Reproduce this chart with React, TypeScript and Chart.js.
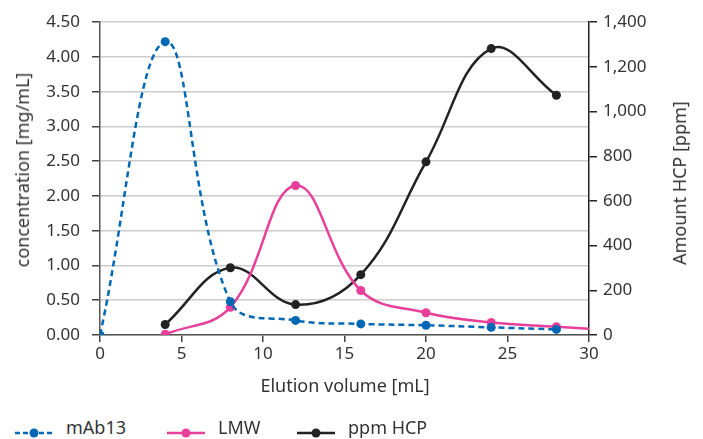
import React, { useEffect, useRef } from "react";
import { Chart, registerables } from "chart.js";

Chart.register(...registerables);

const FONT = "'Noto Sans', sans-serif";
const TEXT = "#333333";

const BLUE = "#0067b4";
const PINK = "#e8409a";
const BLACK = "#222222";

// mAb13 concentration [mg/mL]
const mAb13Volumes = [0, 4, 8, 12, 16, 20, 24, 28];
const mAb13Values = [0, 4.22, 0.48, 0.21, 0.16, 0.14, 0.11, 0.08];

// LMW concentration [mg/mL]
const lmwVolumes = [4, 8, 12, 16, 20, 24, 28, 30];
const lmwValues = [0.01, 0.4, 2.15, 0.64, 0.32, 0.18, 0.12, 0.09];
const lmwMarkers = [true, true, true, true, true, true, true, false];

// HCP [ppm]
const hcpVolumes = [4, 8, 12, 16, 20, 24, 28];
const hcpValues = [47, 301, 136, 270, 775, 1282, 1073];

const xTitle = "Elution volume [mL]";
const yLeftTitle = "concentration [mg/mL]";
const yRightTitle = "Amount HCP [ppm]";

const legendItems = [
  { label: "mAb13", color: BLUE, dashed: true },
  { label: "LMW", color: PINK, dashed: false },
  { label: "ppm HCP", color: BLACK, dashed: false },
];
const legendLeft = [15, 167, 297];

const pts = (xs: number[], ys: number[]) => xs.map((x, i) => ({ x, y: ys[i] }));

const titleStyle: React.CSSProperties = {
  position: "absolute",
  fontFamily: FONT,
  fontSize: 18,
  color: TEXT,
  whiteSpace: "nowrap",
  lineHeight: "22px",
};

export default function App() {
  const ref = useRef<HTMLCanvasElement>(null);

  useEffect(() => {
    document.body.style.margin = "0";
    const tickFont = { family: FONT, size: 17 };
    const chart = new Chart(ref.current!, {
      type: "line",
      data: {
        datasets: [
          {
            label: "mAb13",
            data: pts(mAb13Volumes, mAb13Values),
            borderColor: BLUE,
            backgroundColor: BLUE,
            borderWidth: 2.5,
            borderDash: [6, 4],
            pointRadius: 4.5,
            pointBorderWidth: 0,
            tension: 0.4,
            yAxisID: "y",
          },
          {
            label: "LMW",
            data: pts(lmwVolumes, lmwValues),
            borderColor: PINK,
            backgroundColor: PINK,
            borderWidth: 2.5,
            pointRadius: lmwMarkers.map((m) => (m ? 4.5 : 0)),
            pointBorderWidth: 0,
            tension: 0.4,
            yAxisID: "y",
          },
          {
            label: "ppm HCP",
            data: pts(hcpVolumes, hcpValues),
            borderColor: BLACK,
            backgroundColor: BLACK,
            borderWidth: 2.5,
            pointRadius: 4.5,
            pointBorderWidth: 0,
            tension: 0.4,
            yAxisID: "y1",
          },
        ],
      },
      options: {
        animation: false,
        responsive: false,
        layout: { padding: { top: 19, left: 0, right: 0, bottom: 0 } },
        plugins: { legend: { display: false }, tooltip: { enabled: false } },
        scales: {
          x: {
            type: "linear",
            min: 0,
            max: 30,
            ticks: { stepSize: 5, color: TEXT, font: tickFont, padding: 2 },
            grid: { drawOnChartArea: false, tickLength: 7, tickColor: "#444", lineWidth: 1.5 },
            border: { color: "#555", width: 1.5 },
            afterFit: (s: any) => {
              s.height = 65;
            },
          },
          y: {
            type: "linear",
            position: "left",
            min: 0,
            max: 4.5,
            ticks: {
              stepSize: 0.5,
              color: TEXT,
              font: tickFont,
              padding: 12,
              callback: (v: any) => Number(v).toFixed(2),
            },
            grid: { color: "#cccccc", lineWidth: 1.5, tickColor: "#444", tickLength: 8 },
            border: { color: "#555", width: 1.5 },
            afterFit: (s: any) => {
              s.width = 100;
            },
          },
          y1: {
            type: "linear",
            position: "right",
            min: 0,
            max: 1400,
            ticks: {
              stepSize: 200,
              color: TEXT,
              font: tickFont,
              padding: 6,
              callback: (v: any) => Number(v).toLocaleString("en-US"),
            },
            grid: { drawOnChartArea: false, tickColor: "#222", tickLength: 8, lineWidth: 1.5 },
            border: { color: "#222", width: 1.5 },
            afterFit: (s: any) => {
              s.width = 114;
            },
          },
        },
      },
    });
    return () => chart.destroy();
  }, []);

  return (
    <div style={{ position: "relative", width: 703, height: 439, overflow: "hidden" }}>
      <canvas ref={ref} width={703} height={400} style={{ display: "block" }} />
      <div style={{ ...titleStyle, left: 345, top: 385, transform: "translate(-50%, -50%)" }}>{xTitle}</div>
      <div style={{ ...titleStyle, left: 22, top: 170, transform: "translate(-50%, -50%) rotate(-90deg)" }}>
        {yLeftTitle}
      </div>
      <div style={{ ...titleStyle, left: 679, top: 183, transform: "translate(-50%, -50%) rotate(-90deg)" }}>
        {yRightTitle}
      </div>
      {legendItems.map((it, i) => (
        <React.Fragment key={it.label}>
          <svg
            width={38}
            height={12}
            style={{ position: "absolute", left: legendLeft[i], top: 427 }}
          >
            <line
              x1={0}
              y1={6}
              x2={38}
              y2={6}
              stroke={it.color}
              strokeWidth={2.5}
              strokeDasharray={it.dashed ? "5 3" : undefined}
            />
            <circle cx={19} cy={6} r={4.5} fill={it.color} />
          </svg>
          <span
            style={{
              position: "absolute",
              left: legendLeft[i] + 51,
              top: 417,
              fontFamily: FONT,
              fontSize: 18,
              color: TEXT,
              lineHeight: "20px",
              whiteSpace: "nowrap",
            }}
          >
            {it.label}
          </span>
        </React.Fragment>
      ))}
    </div>
  );
}
